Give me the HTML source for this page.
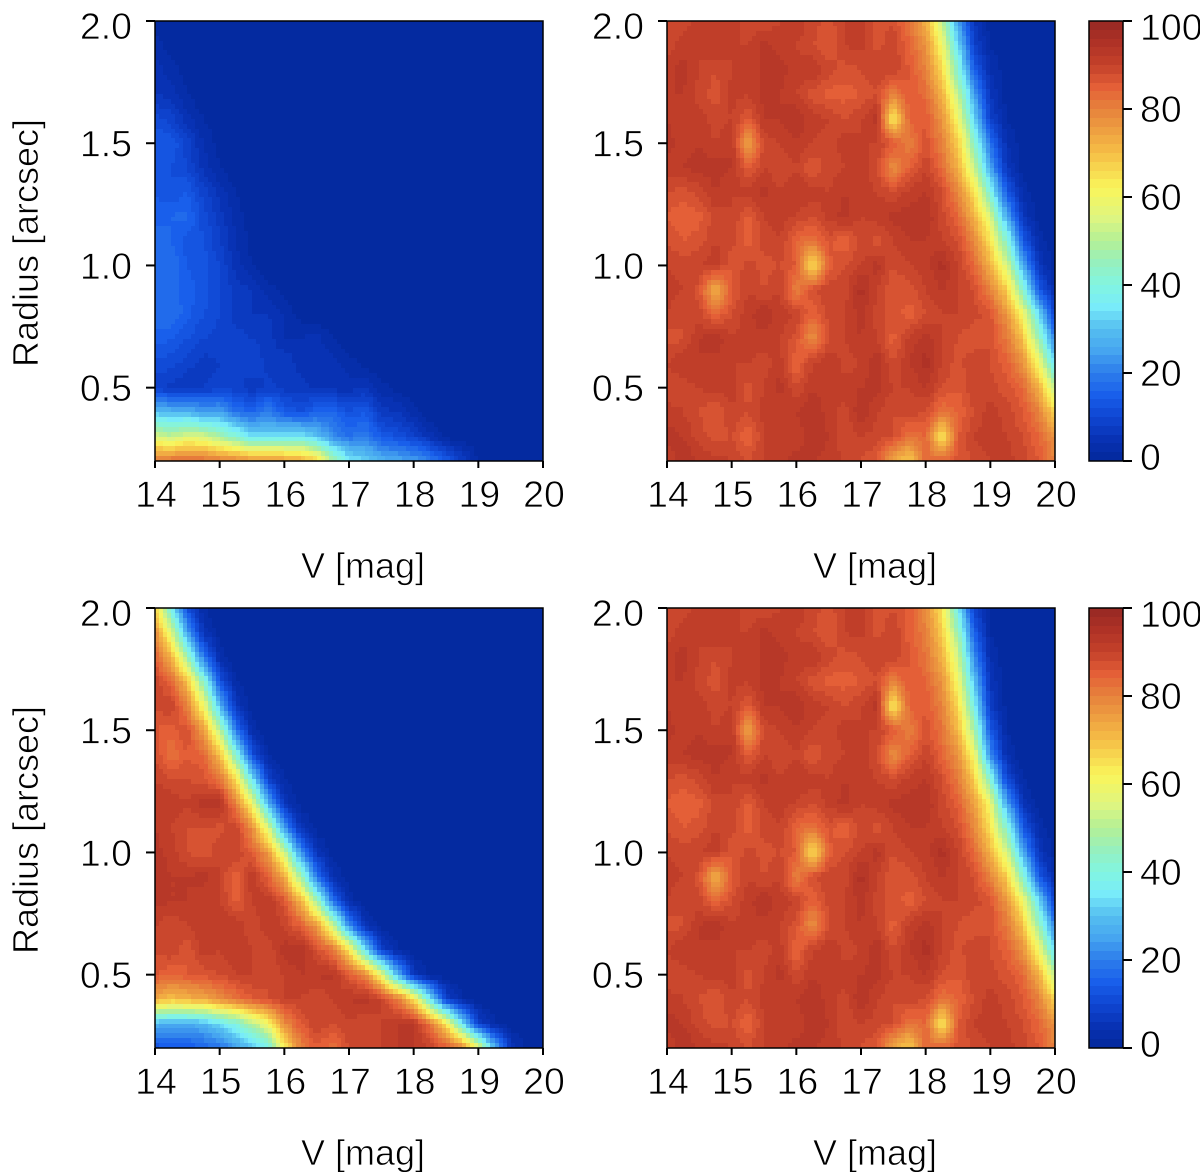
<!DOCTYPE html>
<html lang="en">
<head>
<meta charset="utf-8">
<title>Completeness maps</title>
<style>
html,body{margin:0;padding:0;background:#fff;}
svg{display:block;}
text{font-family:"Liberation Sans",sans-serif;font-size:36px;fill:#000;stroke:#fff;stroke-width:0.7px;}
text.tick{font-size:37.5px;}
</style>
</head>
<body>
<svg id="figure" width="1200" height="1172" viewBox="0 0 1200 1172" xmlns="http://www.w3.org/2000/svg"></svg>
<script>
const magnitudeGrid = [14,14.25,14.5,14.75,15,15.25,15.5,15.75,16,16.25,16.5,16.75,17,17.25,17.5,17.75,18,18.25,18.5,18.75,19,19.25,19.5,19.75,20];
const radiusGrid = [2.0,1.9,1.8,1.7,1.6,1.5,1.4,1.3,1.2,1.1,1.0,0.9,0.8,0.7,0.6,0.5,0.4,0.3,0.2];
const xTickLabels = ["14","15","16","17","18","19","20"];
const yTickLabels = ["2.0","1.5","1.0","0.5"];
const colorbarTickLabels = ["100","80","60","40","20","0"];

const topLeftValues = [
[1,0,0,0,0,0,0,0,0,0,0,0,0,0,0,0,0,0,0,0,0,0,0,0,0],
[3,1,0,0,0,0,0,0,0,0,0,0,0,0,0,0,0,0,0,0,0,0,0,0,0],
[5,3,1,0,0,0,0,0,0,0,0,0,0,0,0,0,0,0,0,0,0,0,0,0,0],
[6,5,2,0,0,0,0,0,0,0,0,0,0,0,0,0,0,0,0,0,0,0,0,0,0],
[11,9,5,2,0,0,0,0,0,0,0,0,0,0,0,0,0,0,0,0,0,0,0,0,0],
[14,14,9,4,1,0,0,0,0,0,0,0,0,0,0,0,0,0,0,0,0,0,0,0,0],
[14,12,10,5,2,0,0,0,0,0,0,0,0,0,0,0,0,0,0,0,0,0,0,0,0],
[14,12,14,9,5,2,0,0,0,0,0,0,0,0,0,0,0,0,0,0,0,0,0,0,0],
[15,16,17,11,7,3,1,0,0,0,0,0,0,0,0,0,0,0,0,0,0,0,0,0,0],
[17,16,13,12,8,4,1,0,0,0,0,0,0,0,0,0,0,0,0,0,0,0,0,0,0],
[16,18,14,13,10,5,2,0,0,0,0,0,0,0,0,0,0,0,0,0,0,0,0,0,0],
[17,17,15,13,10,7,6,3,1,0,0,0,0,0,0,0,0,0,0,0,0,0,0,0,0],
[18,18,15,12,10,7,6,6,4,1,0,0,0,0,0,0,0,0,0,0,0,0,0,0,0],
[15,14,12,10,9,9,8,7,4,4,5,2,0,0,0,0,0,0,0,0,0,0,0,0,0],
[11,11,9,7,8,10,10,7,8,5,5,5,3,1,0,0,0,0,0,0,0,0,0,0,0],
[9,7,6,8,9,9,6,9,7,7,5,5,5,6,3,1,0,0,0,0,0,0,0,0,0],
[30,28,28,24,25,18,16,20,14,12,16,16,12,14,7,6,3,0,0,0,0,0,0,0,0],
[55,52,56,55,48,42,34,34,36,36,30,22,18,20,14,12,9,5,1,0,0,0,0,0,0],
[82,83,84,83,81,80,78,78,76,74,68,48,36,32,28,26,24,20,14,8,2,0,0,0,0]
];

const topRightValues = [
[90,89,91,92,91,89,88,90,92,89,87,90,92,86,88,82,72,52,25,6,1,0,0,0,0],
[89,91,90,92,90,90,93,91,90,88,86,90,91,87,90,84,77,60,33,9,2,0,0,0,0],
[91,93,90,88,90,92,92,93,91,92,89,87,88,90,90,86,80,66,42,15,4,1,0,0,0],
[92,92,89,87,91,90,93,92,90,87,85,85,86,88,80,86,83,72,52,25,6,1,0,0,0],
[92,90,91,89,90,86,92,92,94,91,90,88,90,93,62,85,86,77,60,33,9,2,0,0,0],
[93,91,92,90,92,74,89,90,92,90,89,91,90,90,86,80,87,80,68,44,18,4,1,0,0],
[91,92,93,93,92,86,90,88,90,86,89,90,92,88,78,85,90,83,72,54,26,6,1,0,0],
[88,87,89,92,90,91,93,90,92,91,90,92,91,90,88,91,92,88,79,65,40,14,3,0,0],
[86,84,85,89,90,85,90,91,90,88,91,93,90,91,93,93,94,89,84,72,56,26,6,1,0],
[88,86,87,90,89,85,89,90,84,82,87,84,89,87,90,92,92,90,88,79,65,42,14,3,0],
[90,89,90,91,86,89,87,88,86,64,85,88,90,93,88,90,91,95,90,84,72,55,26,6,1],
[91,90,87,72,86,90,88,90,80,88,90,89,95,90,86,87,90,92,90,88,80,68,42,14,3],
[90,88,89,84,88,91,94,91,90,84,89,90,93,89,87,85,88,90,90,89,87,77,60,33,9],
[87,88,92,94,90,92,91,90,87,78,88,90,92,90,85,91,93,90,88,86,88,81,70,46,20],
[90,92,92,91,90,90,89,91,84,90,92,89,90,94,88,92,95,90,87,90,88,85,77,60,33],
[88,89,90,91,91,87,90,93,88,92,90,91,92,93,90,90,92,88,86,90,89,87,84,72,52],
[91,90,88,86,90,88,91,90,92,94,91,89,94,90,88,89,88,82,84,88,91,89,86,80,66],
[93,92,89,87,88,84,90,92,90,94,92,88,90,89,88,82,84,62,86,90,92,90,88,84,77],
[90,94,92,91,90,88,90,91,93,92,91,90,88,86,74,68,84,84,87,88,90,91,89,86,80]
];

const bottomLeftValues = [
[68,38,12,2,0,0,0,0,0,0,0,0,0,0,0,0,0,0,0,0,0,0,0,0,0],
[78,56,25,5,1,0,0,0,0,0,0,0,0,0,0,0,0,0,0,0,0,0,0,0,0],
[85,72,47,18,3,0,0,0,0,0,0,0,0,0,0,0,0,0,0,0,0,0,0,0,0],
[90,84,70,42,12,2,0,0,0,0,0,0,0,0,0,0,0,0,0,0,0,0,0,0,0],
[88,90,80,60,28,6,1,0,0,0,0,0,0,0,0,0,0,0,0,0,0,0,0,0,0],
[86,85,88,75,50,18,3,0,0,0,0,0,0,0,0,0,0,0,0,0,0,0,0,0,0],
[88,82,86,84,70,42,12,2,0,0,0,0,0,0,0,0,0,0,0,0,0,0,0,0,0],
[90,88,88,87,82,65,35,9,2,0,0,0,0,0,0,0,0,0,0,0,0,0,0,0,0],
[92,92,90,93,94,80,60,28,6,1,0,0,0,0,0,0,0,0,0,0,0,0,0,0,0],
[92,90,88,88,87,90,78,56,24,5,1,0,0,0,0,0,0,0,0,0,0,0,0,0,0],
[93,91,88,86,90,90,85,76,54,22,5,1,0,0,0,0,0,0,0,0,0,0,0,0,0],
[94,92,92,93,90,84,92,85,74,48,18,4,1,0,0,0,0,0,0,0,0,0,0,0,0],
[93,92,92,90,90,85,90,92,87,72,47,17,3,0,0,0,0,0,0,0,0,0,0,0,0],
[90,88,90,92,92,92,88,92,90,85,76,54,22,5,1,0,0,0,0,0,0,0,0,0,0],
[88,90,86,91,90,92,90,88,93,94,88,82,65,35,9,2,0,0,0,0,0,0,0,0,0],
[86,84,86,87,88,90,90,88,90,92,92,93,86,80,60,28,6,1,0,0,0,0,0,0,0],
[74,70,72,74,78,82,86,88,90,90,88,90,92,93,90,82,65,35,9,2,0,0,0,0,0],
[28,26,26,28,34,40,50,60,78,86,90,88,90,88,90,92,93,82,65,35,9,2,0,0,0],
[12,14,14,16,18,24,30,38,62,80,86,82,88,90,90,92,92,90,86,80,60,28,6,1,0]
];

const bottomRightValues = [
[90,89,91,92,91,89,88,90,92,89,87,90,92,86,88,85,78,64,36,9,1,0,0,0,0],
[89,91,90,92,90,90,93,91,90,88,86,90,91,87,90,85,80,68,46,15,2,0,0,0,0],
[91,93,90,88,90,92,92,93,91,92,89,87,88,90,90,86,82,72,54,22,4,0,0,0,0],
[92,92,89,87,91,90,93,92,90,87,85,85,86,88,80,86,84,77,60,30,6,1,0,0,0],
[92,90,91,89,90,86,92,92,94,91,90,88,90,93,62,85,86,80,66,38,8,1,0,0,0],
[93,91,92,90,92,74,89,90,92,90,89,91,90,90,86,80,87,82,71,48,14,2,0,0,0],
[91,92,93,93,92,86,90,88,90,86,89,90,92,88,78,85,90,84,77,60,22,4,0,0,0],
[88,87,89,92,90,91,93,90,92,91,90,92,91,90,88,91,92,88,81,68,42,10,2,0,0],
[86,84,85,89,90,85,90,91,90,88,91,93,90,91,93,93,94,89,85,75,60,26,5,1,0],
[88,86,87,90,89,85,89,90,84,82,87,84,89,87,90,92,92,90,88,79,65,42,14,3,0],
[90,89,90,91,86,89,87,88,86,64,85,88,90,93,88,90,91,95,90,84,72,55,26,6,1],
[91,90,87,72,86,90,88,90,80,88,90,89,95,90,86,87,90,92,90,88,80,68,42,14,3],
[90,88,89,84,88,91,94,91,90,84,89,90,93,89,87,85,88,90,90,89,87,77,60,33,9],
[87,88,92,94,90,92,91,90,87,78,88,90,92,90,85,91,93,90,88,86,88,81,70,46,20],
[90,92,92,91,90,90,89,91,84,90,92,89,90,94,88,92,95,90,87,90,88,85,77,60,33],
[88,89,90,91,91,87,90,93,88,92,90,91,92,93,90,90,92,88,86,90,89,87,84,72,52],
[91,90,88,86,90,88,91,90,92,94,91,89,94,90,88,89,88,82,84,88,91,89,86,80,66],
[93,92,89,87,88,84,90,92,90,94,92,88,90,89,88,82,84,62,86,90,92,90,88,84,77],
[90,94,92,91,90,88,90,91,93,92,91,90,88,86,74,68,84,84,87,88,90,91,89,86,80]
];

const colorStops = [
[0,3,40,155],[5,8,50,180],[10,15,70,210],[15,25,95,235],[20,45,125,235],[25,70,165,240],[30,85,190,240],
[35,120,235,250],[40,130,245,225],[45,150,240,190],[50,180,240,150],[55,220,245,130],[62,250,245,90],
[70,245,190,70],[80,230,130,60],[85,228,95,55],[90,196,65,42],[95,175,50,38],[100,150,40,35]
];

const svg = document.getElementById('figure');
const NS = 'http://www.w3.org/2000/svg';
const panelWidth = 388, panelHeight = 440;
const vMin = 14, vMax = 20, rMin = 0.2, rMax = 2.0;
const LEVEL = 2, SUBX = 4, SUBY = 5;

function shape(tag, parent, props) {
  const el = document.createElementNS(NS, tag);
  for (const k in props) el.setAttribute(k, props[k]);
  parent.appendChild(el);
  return el;
}
function colorFor(value) {
  const lv = Math.min(99, Math.floor(Math.max(0, value) / LEVEL) * LEVEL + LEVEL / 2);
  for (let i = 1; i < colorStops.length; i++) {
    if (lv <= colorStops[i][0]) {
      const a = colorStops[i - 1], b = colorStops[i];
      const t = (lv - a[0]) / (b[0] - a[0]);
      return 'rgb(' + [1, 2, 3].map(function (c) { return Math.round(a[c] + (b[c] - a[c]) * t); }).join(',') + ')';
    }
  }
  return 'rgb(150,40,35)';
}
function drawTickLine(parent, x1, y1, x2, y2, name) {
  const ln = shape('line', parent, {x1: x1, y1: y1, x2: x2, y2: y2, stroke: '#000', 'stroke-width': 2});
  
  
}
function drawLabel(parent, x, y, text, anchor, name, transform, cls) {
  const t = shape('text', parent, {x: x, y: y, 'text-anchor': anchor});
  if (transform) t.setAttribute('transform', transform);
  if (cls) t.setAttribute('class', cls);
  t.textContent = text;
  
  
}

function drawPanel(prefix, values, x0, y0) {
  const xScale = function (v) { return x0 + (v - vMin) / (vMax - vMin) * panelWidth; };
  const yScale = function (r) { return y0 + (rMax - r) / (rMax - rMin) * panelHeight; };
  const g = shape('g', svg, {});
  
  
  const cells = shape('g', g, {'shape-rendering': 'crispEdges'});
  
  
  for (let j = 0; j < radiusGrid.length - 1; j++) {
    for (let i = 0; i < magnitudeGrid.length - 1; i++) {
      const xa = xScale(magnitudeGrid[i]), xb = xScale(magnitudeGrid[i + 1]);
      const ya = yScale(radiusGrid[j]), yb = yScale(radiusGrid[j + 1]);
      const q00 = values[j][i], q10 = values[j][i + 1], q01 = values[j + 1][i], q11 = values[j + 1][i + 1];
      for (let sy = 0; sy < SUBY; sy++) {
        for (let sx = 0; sx < SUBX; sx++) {
          const u = (sx + 0.5) / SUBX, w = (sy + 0.5) / SUBY;
          const val = q00 * (1 - u) * (1 - w) + q10 * u * (1 - w) + q01 * (1 - u) * w + q11 * u * w;
          const left = Math.round(xa + (xb - xa) * sx / SUBX), right = Math.round(xa + (xb - xa) * (sx + 1) / SUBX);
          const top = Math.round(ya + (yb - ya) * sy / SUBY), bottom = Math.round(ya + (yb - ya) * (sy + 1) / SUBY);
          const cell = shape('rect', cells, {x: left, y: top, width: right - left, height: bottom - top, fill: colorFor(val)});
          
          
        }
      }
    }
  }
  const frame = shape('rect', g, {x: x0, y: y0, width: panelWidth, height: panelHeight, fill: 'none', stroke: '#000', 'stroke-width': 1.5});
  
  
  xTickLabels.forEach(function (label, idx) {
    const x = xScale(Number(label));
    drawTickLine(g, x, y0 + panelHeight, x, y0 + panelHeight + 7, prefix + '-x-tick');
    drawLabel(g, x + 1, y0 + panelHeight + 46, label, 'middle', prefix + '-x-tick-label', null, 'tick');
  });
  yTickLabels.forEach(function (label, idx) {
    const y = yScale(Number(label));
    drawTickLine(g, x0 - 9, y, x0, y, prefix + '-y-tick');
    drawLabel(g, x0 - 23, y + (idx === 0 ? 18 : 13.5), label, 'end', prefix + '-y-tick-label', null, 'tick');
  });
  drawLabel(g, x0 + 208, y0 + panelHeight + 117, 'V [mag]', 'middle', prefix + '-x-axis-title');
  if (x0 < 400) {
    drawLabel(g, 0, 0, 'Radius [arcsec]', 'middle', prefix + '-y-axis-title', 'translate(38,' + (y0 + 222) + ') rotate(-90)');
  }
}

function drawColorbar(prefix, y0) {
  const x0 = 1089, w = 34;
  const scale = function (v) { return y0 + (100 - v) / 100 * panelHeight; };
  const g = shape('g', svg, {});
  
  
  const bands = shape('g', g, {'shape-rendering': 'crispEdges'});
  for (let lv = 0; lv < 100; lv += LEVEL) {
    const top = Math.round(scale(lv + LEVEL)), bottom = Math.round(scale(lv));
    const band = shape('rect', bands, {x: x0, y: top, width: w, height: bottom - top, fill: colorFor(lv + 0.5)});
    
    
  }
  const frame = shape('rect', g, {x: x0, y: y0, width: w, height: panelHeight, fill: 'none', stroke: '#000', 'stroke-width': 1.5});
  
  
  colorbarTickLabels.forEach(function (label, idx) {
    const y = scale(Number(label));
    drawTickLine(g, x0 + w, y, x0 + w + 9, y, prefix + '-colorbar-tick');
    const offset = idx === 0 ? 19 : (idx === colorbarTickLabels.length - 1 ? 9 : 13);
    drawLabel(g, 1140, y + offset, label, 'start', prefix + '-colorbar-label', null, 'tick');
  });
}

drawPanel('top-left', topLeftValues, 155, 21);
drawPanel('top-right', topRightValues, 667, 21);
drawPanel('bottom-left', bottomLeftValues, 155, 608);
drawPanel('bottom-right', bottomRightValues, 667, 608);
drawColorbar('top', 21);
drawColorbar('bottom', 608);
</script>
</body>
</html>
